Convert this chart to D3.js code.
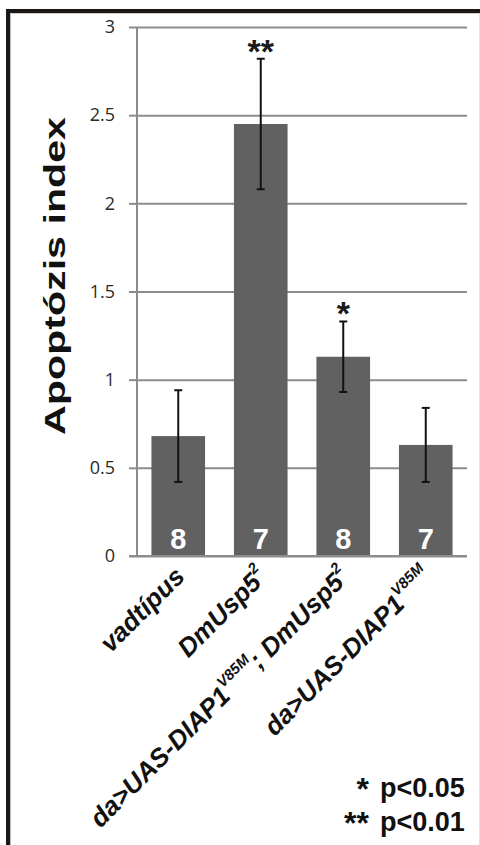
<!DOCTYPE html>
<html>
<head>
<meta charset="utf-8">
<script src="https://cdn.jsdelivr.net/npm/d3@7"></script>
<style>
  html, body { margin: 0; padding: 0; background: #fff; }
  svg { display: block; }
</style>
</head>
<body>
<svg id="chart" width="480" height="845"></svg>
<script>
// Apoptosis index per genotype (mean ± SEM), sample size shown in each bar
const categories = ["vadtípus", "DmUsp5²", "da>UAS-DIAP1V85M; DmUsp5²", "da>UAS-DIAP1V85M"];
const means = [0.68, 2.45, 1.13, 0.63];
const errors = [0.26, 0.37, 0.20, 0.21];
const counts = [8, 7, 8, 7];
const stars = ["", "**", "*", ""];
const yTicks = [0, 0.5, 1, 1.5, 2, 2.5, 3];

// Label pieces: [text, isSuperscript]
const labelParts = [
  [["vadtípus", false]],
  [["DmUsp5", false], ["2", true]],
  [["da>UAS-DIAP1", false], ["V85M", true], ["; DmUsp5", false], ["2", true]],
  [["da>UAS-DIAP1", false], ["V85M", true]]
];

const svg = d3.select("#chart");
const W = 480, H = 845;

svg.append("rect").attr("width", W).attr("height", H).attr("fill", "#fff");

// frame
const frame = svg.append("g");
frame.append("line").attr("x1", 8).attr("x2", 8).attr("y1", 9).attr("y2", H)
  .attr("stroke", "#1a1714").attr("stroke-width", 4);
frame.append("line").attr("x1", 6).attr("x2", W).attr("y1", 11).attr("y2", 11)
  .attr("stroke", "#1a1714").attr("stroke-width", 4);
frame.append("line").attr("x1", 10.5).attr("x2", 10.5).attr("y1", 13).attr("y2", H)
  .attr("stroke", "#bdbdbd").attr("stroke-width", 1);
frame.append("line").attr("x1", 10).attr("x2", W).attr("y1", 13.5).attr("y2", 13.5)
  .attr("stroke", "#cfcfcf").attr("stroke-width", 1);
frame.append("line").attr("x1", 479.5).attr("x2", 479.5).attr("y1", 13).attr("y2", H)
  .attr("stroke", "#e2e2e2").attr("stroke-width", 1);

const plotLeft = 137, plotRight = 467, plotTop = 27, plotBottom = 556;

const y = d3.scaleLinear().domain([0, 3]).range([plotBottom, plotTop]);
const x = d3.scaleBand().domain(categories).range([plotLeft, plotRight])
  .paddingInner(0.35).paddingOuter(0.175);

const gridColor = "#8c8c8c";

// horizontal gridlines
const grid = svg.append("g").attr("transform", `translate(${plotLeft},0)`)
  .call(d3.axisLeft(y).tickValues(yTicks).tickSize(-(plotRight - plotLeft)).tickFormat(""));
grid.select(".domain").remove();
grid.selectAll(".tick line").attr("stroke", gridColor).attr("stroke-width", 2);

// y axis with outer ticks and labels
const yAxis = svg.append("g").attr("transform", `translate(${plotLeft},0)`)
  .call(d3.axisLeft(y).tickValues(yTicks).tickSize(8).tickPadding(14)
    .tickFormat(d => String(d)));
yAxis.select(".domain").attr("stroke", gridColor).attr("stroke-width", 2)
  .attr("d", `M0,${plotTop}V${plotBottom}`);
yAxis.selectAll(".tick line").attr("stroke", gridColor).attr("stroke-width", 2);
yAxis.selectAll(".tick text")
  .attr("font-family", "'Open Sans', 'Liberation Sans', sans-serif")
  .attr("font-size", 18).attr("fill", "#2a2a2a");

// bars
svg.append("g").selectAll("rect").data(categories).join("rect")
  .attr("x", d => x(d)).attr("width", x.bandwidth())
  .attr("y", (d, i) => y(means[i]))
  .attr("height", (d, i) => y(0) - y(means[i]))
  .attr("fill", "#616161");

// baseline redrawn over the bars
svg.append("line").attr("x1", plotLeft - 8).attr("x2", plotRight)
  .attr("y1", y(0)).attr("y2", y(0)).attr("stroke", gridColor).attr("stroke-width", 2);

// error bars
const eb = svg.append("g").attr("stroke", "#111").attr("stroke-width", 2);
categories.forEach((c, i) => {
  const cx = x(c) + x.bandwidth() / 2;
  const top = y(means[i] + errors[i]), bot = y(means[i] - errors[i]);
  eb.append("line").attr("x1", cx).attr("x2", cx).attr("y1", top).attr("y2", bot);
  eb.append("line").attr("x1", cx - 4).attr("x2", cx + 4).attr("y1", top).attr("y2", top);
  eb.append("line").attr("x1", cx - 4).attr("x2", cx + 4).attr("y1", bot).attr("y2", bot);
});

// significance stars
svg.append("g").selectAll("text").data(categories).join("text")
  .attr("x", d => x(d) + x.bandwidth() / 2)
  .attr("y", (d, i) => y(means[i] + errors[i]) + 4)
  .attr("text-anchor", "middle")
  .attr("font-family", "'Liberation Sans', Arial, sans-serif")
  .attr("font-weight", "bold").attr("font-size", 34).attr("fill", "#1a1a1a")
  .text((d, i) => stars[i]);

// sample sizes inside bars
svg.append("g").selectAll("text").data(categories).join("text")
  .attr("x", d => x(d) + x.bandwidth() / 2)
  .attr("y", plotBottom - 7)
  .attr("text-anchor", "middle")
  .attr("font-family", "'Liberation Sans', Arial, sans-serif")
  .attr("font-weight", "bold").attr("font-size", 29).attr("fill", "#ffffff")
  .text((d, i) => counts[i]);

// y axis title
svg.append("text")
  .attr("transform", "translate(65,276) rotate(-90)")
  .attr("text-anchor", "middle")
  .attr("font-family", "'Liberation Sans', Arial, sans-serif")
  .attr("font-weight", "bold").attr("font-size", 29).attr("fill", "#111")
  .attr("textLength", 318).attr("lengthAdjust", "spacingAndGlyphs")
  .text("Apoptózis index");

// rotated category labels
const xl = svg.append("g")
  .attr("font-family", "'Liberation Sans', Arial, sans-serif")
  .attr("font-weight", "bold").attr("font-style", "italic")
  .attr("fill", "#111");
categories.forEach((c, i) => {
  const cx = x(c) + x.bandwidth() / 2;
  const t = xl.append("text")
    .attr("transform", `translate(${cx + 8},578) rotate(-45)`)
    .attr("text-anchor", "end")
    .attr("font-size", 26);
  labelParts[i].forEach(([s, sup], k) => {
    const prevSup = k > 0 && labelParts[i][k - 1][1];
    const ts = t.append("tspan").text(s);
    if (sup) ts.attr("font-size", 15).attr("dy", -13);
    else if (prevSup) ts.attr("dy", 13);
  });
});

// significance legend
const lg = svg.append("g")
  .attr("font-family", "'Liberation Sans', Arial, sans-serif")
  .attr("font-weight", "bold").attr("fill", "#111");
lg.append("text").attr("x", 369).attr("y", 800).attr("text-anchor", "end")
  .attr("font-size", 32).text("*");
lg.append("text").attr("x", 369).attr("y", 834).attr("text-anchor", "end")
  .attr("font-size", 32).text("**");
lg.append("text").attr("x", 380).attr("y", 797).attr("font-size", 27).text("p<0.05");
lg.append("text").attr("x", 380).attr("y", 831).attr("font-size", 27).text("p<0.01");
</script>
</body>
</html>
